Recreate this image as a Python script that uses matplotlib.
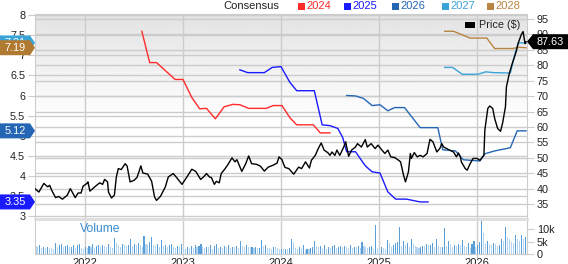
import numpy as np
import matplotlib.pyplot as plt
from matplotlib.patches import Polygon, Rectangle
from matplotlib.transforms import blended_transform_factory

plt.rcParams['font.family'] = ['Liberation Sans', 'DejaVu Sans']

# consensus EPS estimates (decimal year, value)
t_2024 = [2022.58, 2022.66, 2022.73, 2022.82, 2022.92, 2023.00, 2023.09, 2023.17, 2023.24, 2023.33,
          2023.42, 2023.51, 2023.58, 2023.67, 2023.85, 2023.92, 2024.01, 2024.09, 2024.16, 2024.33,
          2024.40, 2024.50]
eps_2024 = [7.60, 6.82, 6.82, 6.62, 6.40, 6.40, 5.95, 5.67, 5.68, 5.42,
            5.72, 5.78, 5.77, 5.68, 5.68, 5.75, 5.75, 5.45, 5.27, 5.27,
            5.07, 5.07]

t_2025 = [2023.58, 2023.66, 2023.83, 2023.91, 2024.00, 2024.09, 2024.16, 2024.34, 2024.42, 2024.50,
          2024.58, 2024.63, 2024.67, 2024.76, 2024.86, 2024.93, 2025.01, 2025.09, 2025.17, 2025.28,
          2025.42, 2025.50]
eps_2025 = [6.64, 6.57, 6.57, 6.70, 6.72, 6.33, 6.12, 6.12, 5.27, 5.25,
            5.18, 4.95, 4.60, 4.60, 4.25, 4.10, 4.07, 3.60, 3.42, 3.42,
            3.35, 3.35]

t_2026 = [2024.67, 2024.76, 2024.84, 2024.93, 2025.01, 2025.09, 2025.16, 2025.26, 2025.42, 2025.60,
          2025.65, 2025.78, 2025.86, 2026.03, 2026.08, 2026.18, 2026.34, 2026.41, 2026.50]
eps_2026 = [6.00, 5.99, 5.93, 5.75, 5.77, 5.62, 5.70, 5.70, 5.20, 5.20,
            4.65, 4.62, 4.40, 4.37, 4.55, 4.62, 4.70, 5.12, 5.12]

t_2027 = [2025.67, 2025.75, 2025.85, 2026.01, 2026.09, 2026.17, 2026.34, 2026.39, 2026.42, 2026.50]
eps_2027 = [6.70, 6.70, 6.53, 6.53, 6.59, 6.57, 6.56, 7.07, 7.31, 7.31]

t_2028 = [2025.67, 2025.76, 2025.93, 2026.10, 2026.18, 2026.36, 2026.43, 2026.50]
eps_2028 = [7.60, 7.60, 7.43, 7.43, 7.17, 7.17, 7.20, 7.19]

# share price
t_price = [2021.49, 2021.53, 2021.58, 2021.62, 2021.64, 2021.66, 2021.70, 2021.73, 2021.77, 2021.82,
           2021.85, 2021.87, 2021.90, 2021.93, 2021.96, 2021.98, 2022.02, 2022.03, 2022.05, 2022.10,
           2022.15, 2022.18, 2022.20, 2022.23, 2022.24, 2022.27, 2022.30, 2022.32, 2022.34, 2022.37,
           2022.41, 2022.43, 2022.46, 2022.50, 2022.53, 2022.55, 2022.57, 2022.59, 2022.64, 2022.68,
           2022.71, 2022.73, 2022.77, 2022.82, 2022.85, 2022.90, 2022.93, 2022.99, 2023.04, 2023.09,
           2023.13, 2023.18, 2023.21, 2023.24, 2023.27, 2023.29, 2023.32, 2023.34, 2023.37, 2023.39,
           2023.43, 2023.46, 2023.50, 2023.53, 2023.55, 2023.60, 2023.64, 2023.67, 2023.70, 2023.75,
           2023.79, 2023.83, 2023.87, 2023.92, 2023.96, 2023.98, 2024.01, 2024.04, 2024.08, 2024.13,
           2024.18, 2024.21, 2024.25, 2024.29, 2024.31, 2024.35, 2024.38, 2024.41, 2024.44, 2024.48,
           2024.50, 2024.52, 2024.55, 2024.57, 2024.60, 2024.64, 2024.66, 2024.69, 2024.72, 2024.76,
           2024.78, 2024.82, 2024.86, 2024.88, 2024.92, 2024.96, 2024.99, 2025.03, 2025.06, 2025.09,
           2025.12, 2025.16, 2025.20, 2025.22, 2025.25, 2025.27, 2025.30, 2025.32, 2025.33, 2025.36,
           2025.39, 2025.42, 2025.45, 2025.49, 2025.52, 2025.55, 2025.59, 2025.62, 2025.64, 2025.66,
           2025.69, 2025.72, 2025.76, 2025.79, 2025.81, 2025.83, 2025.84, 2025.88, 2025.90, 2025.93,
           2025.96, 2026.00, 2026.03, 2026.07, 2026.08, 2026.11, 2026.13, 2026.16, 2026.18, 2026.21,
           2026.24, 2026.26, 2026.29, 2026.30, 2026.33, 2026.36, 2026.40, 2026.42, 2026.45, 2026.47,
           2026.49, 2026.50]
price = [40.0, 38.9, 41.7, 40.6, 41.1, 39.5, 37.1, 37.5, 36.6, 37.9,
         40.0, 38.9, 37.1, 38.6, 38.6, 40.8, 41.7, 42.2, 39.2, 40.6,
         41.9, 41.4, 43.0, 42.2, 38.9, 37.0, 37.9, 43.8, 46.5, 46.2,
         48.1, 47.3, 42.2, 42.7, 43.6, 45.4, 47.4, 45.1, 44.7, 42.4,
         37.3, 36.2, 37.5, 40.6, 43.8, 44.9, 43.8, 41.4, 43.8, 46.3,
         45.6, 43.0, 43.8, 44.9, 43.8, 43.6, 41.4, 42.4, 41.9, 44.9,
         46.5, 47.9, 50.0, 48.7, 49.4, 45.6, 48.1, 50.6, 48.1, 47.9,
         47.3, 45.7, 47.0, 47.6, 48.3, 50.3, 49.4, 46.9, 46.5, 44.7,
         47.0, 46.5, 48.7, 46.7, 49.2, 50.8, 53.0, 54.8, 52.5, 51.6,
         50.8, 51.9, 50.8, 52.5, 50.8, 53.5, 55.2, 50.5, 52.5, 53.5,
         54.6, 53.5, 55.9, 53.5, 54.6, 53.0, 54.1, 52.5, 51.4, 52.5,
         50.3, 50.1, 49.2, 48.7, 44.4, 42.2, 45.4, 51.4, 49.8, 51.7,
         50.3, 50.8, 50.3, 51.4, 56.0, 55.2, 51.9, 53.0, 54.6, 53.5,
         53.0, 52.5, 51.9, 50.3, 51.6, 50.3, 48.7, 46.5, 46.0, 48.1,
         49.8, 49.8, 49.2, 50.8, 59.0, 66.0, 66.8, 66.0, 62.8, 59.5,
         58.6, 61.1, 66.5, 73.0, 77.4, 80.6, 84.4, 87.1, 89.8, 90.9,
         87.0, 87.63]

# weekly volume, thousands
volume_k = [3.2, 2.8, 3.5, 2.5, 3.0, 2.6, 2.8, 2.6, 2.4, 2.0,
            4.5, 3.0, 3.8, 4.2, 2.9, 3.2, 3.6, 2.8, 3.0, 3.8, 2.5, 3.5, 4.0, 2.3, 2.0,
            2.8, 2.5, 3.4, 3.0, 4.2, 2.6, 3.1, 3.5, 2.9, 3.8, 3.3, 2.7, 4.0, 3.0, 2.5,
            6.4, 4.5, 3.5, 3.0, 4.0, 3.6, 3.2, 3.8, 5.9, 3.4, 4.0, 3.5, 4.4, 3.8, 2.9, 7.2,
            4.2, 3.6, 4.8, 6.8, 3.8, 3.4, 4.0, 3.0, 5.5, 3.2, 3.8, 2.8, 3.6, 4.2, 2.9,
            2.6, 3.4, 2.8, 4.0, 2.5, 2.2, 3.0, 2.4, 3.2, 2.6, 3.8, 2.9, 3.4, 4.2, 2.7,
            2.4, 3.0, 2.8, 3.6, 2.2, 3.2, 4.0, 2.6, 3.0, 2.4, 3.4, 2.8, 3.8, 2.5, 3.0,
            2.8, 3.4, 2.6, 5.3, 3.1, 2.9, 3.6, 3.0, 2.7, 2.8, 2.6, 3.0, 2.4, 2.5, 5.6,
            3.2, 3.8, 2.6, 2.4, 2.2, 3.0, 2.8, 2.4, 2.0, 2.2,
            2.0, 2.2, 2.0, 2.4, 6.0, 4.8, 2.5, 2.0, 2.8, 2.6, 3.5, 1.8, 2.2, 2.0, 2.4,
            2.8, 5.2, 3.2, 3.0, 3.4, 2.6, 3.8, 2.2, 3.0, 2.4, 3.2, 3.6, 2.6, 2.8, 3.4,
            2.8, 3.2, 3.0, 2.6, 3.6, 2.5, 3.0, 2.8, 3.4, 2.6, 5.0, 3.2, 2.7, 2.4, 2.8, 3.4, 2.2, 11.6,
            2.4, 2.2, 3.0, 2.6, 2.0, 5.8, 4.5, 3.0, 3.8, 4.4, 4.8, 10.8, 3.4, 5.2, 3.6,
            4.6, 3.0, 6.2, 4.0, 3.2, 2.8, 2.6, 3.0, 3.4, 3.2, 4.0, 3.6, 3.8, 4.4, 3.0,
            6.0, 3.2, 2.8, 3.0, 10.6, 3.4, 5.4, 4.2, 2.8, 3.6, 3.2, 4.0, 3.8, 5.6, 3.4,
            3.0, 4.6, 2.6, 4.2, 5.2, 3.0, 3.6, 4.8, 13.5, 8.5, 4.6, 5.4, 4.0, 3.8,
            4.4, 4.0, 3.4, 3.8, 6.0, 5.2, 10.8, 7.0, 6.2, 5.0, 4.4, 7.6, 6.0, 5.2, 7.6, 6.0, 7.0]

years = [2022, 2023, 2024, 2025, 2026]
eps_ticks = [3, 3.5, 4, 4.5, 5, 5.5, 6, 6.5, 7, 7.5, 8]
price_ticks = [35, 40, 45, 50, 55, 60, 65, 70, 75, 80, 85, 90, 95]
vol_ticks = [0, 5, 10]
vol_labels = ['0', '5k', '10k']

series = [('2024', t_2024, eps_2024, '#ff2a2a'),
          ('2025', t_2025, eps_2025, '#1a1aff'),
          ('2026', t_2026, eps_2026, '#2566b4'),
          ('2027', t_2027, eps_2027, '#3aa3d8'),
          ('2028', t_2028, eps_2028, '#b8843f')]

xlim = (2021.49, 2026.51)
eps_lim = (2.95, 8.03)
price_lim = (30.5, 96.6)
grid_c = '#cccccc'

fig = plt.figure(figsize=(5.68, 2.64), dpi=100)
W, H = 568, 264
ax = fig.add_axes([35 / W, 1 - 218 / H, 492 / W, 204 / H])
axv = fig.add_axes([35 / W, 1 - 254 / H, 492 / W, 35 / H])

# background gradient
grad = np.clip(np.linspace(0.89, 1.1, 256), 0, 1)[:, None]
ax.imshow(grad, cmap='gray', vmin=0, vmax=1, extent=[0, 1, 0, 1],
          transform=ax.transAxes, aspect='auto', zorder=0)
ax.set_xlim(*xlim)
ax.set_ylim(*eps_lim)

# gridlines for both scales
for v in eps_ticks:
    ax.axhline(v, color=grid_c, lw=1, zorder=1)
for v in price_ticks:
    yl = eps_lim[0] + (v - price_lim[0]) * (eps_lim[1] - eps_lim[0]) / (price_lim[1] - price_lim[0])
    ax.axhline(yl, color=grid_c, lw=1, zorder=1)
for y in years:
    ax.axvline(y, color=grid_c, lw=1, zorder=1)
    axv.axvline(y, color=grid_c, lw=1, zorder=0)

for name, t, v, c in series:
    ax.plot(t, v, color=c, lw=1.0, zorder=3)

ax.set_xticks(years)
ax.tick_params(axis='x', length=0, labelbottom=False)
ax.set_yticks(eps_ticks)
ax.set_yticklabels(['{:g}'.format(v) for v in eps_ticks])
ax.tick_params(axis='y', direction='out', length=5, color=grid_c, labelsize=7.8,
               labelcolor='#222222', pad=2)
for s in ax.spines.values():
    s.set_color(grid_c)
ax.spines['bottom'].set_visible(False)

axp = ax.twinx()
axp.plot(t_price, price, color='black', lw=1.0, zorder=4)
axp.set_ylim(*price_lim)
axp.set_xlim(*xlim)
axp.set_yticks(price_ticks)
axp.tick_params(axis='y', direction='out', length=5, color=grid_c, labelsize=7.8,
                labelcolor='#222222', pad=2)
for s in axp.spines.values():
    s.set_visible(False)

# value tags, each stacked above the previous one
def left_tag(value, color, z):
    tr = blended_transform_factory(ax.transAxes, ax.transData)
    hh = 7.5 * (eps_lim[1] - eps_lim[0]) / 204
    x0, x1, x2 = -35 / 492, -5 / 492, 0
    poly = Polygon([[x0, value - hh], [x1, value - hh], [x2, value],
                    [x1, value + hh], [x0, value + hh]], closed=True,
                   facecolor=color, edgecolor='none', transform=tr, clip_on=False, zorder=z)
    ax.add_patch(poly)
    ax.text((x0 + x1) / 2, value, '{:.2f}'.format(value), transform=tr, color='white',
            fontsize=7.8, ha='center', va='center', clip_on=False, zorder=z + 0.5)

left_tag(eps_2027[-1], '#3aa3d8', 6)
left_tag(eps_2028[-1], '#b07a30', 7)
left_tag(eps_2026[-1], '#2566b4', 8)
left_tag(eps_2025[-1], '#1a1aff', 9)

tr = blended_transform_factory(axp.transAxes, axp.transData)
hh = 7.5 * (price_lim[1] - price_lim[0]) / 204
last = price[-1]
x0, x1, x2 = 1.0, 1 + 6 / 492, 1 + 41 / 492
axp.add_patch(Polygon([[x0, last], [x1, last + hh], [x2, last + hh], [x2, last - hh],
                       [x1, last - hh]], closed=True, facecolor='black', edgecolor='none',
                      transform=tr, clip_on=False, zorder=6))
axp.text((x1 + x2) / 2, last, '{:.2f}'.format(last), transform=tr, color='white',
         fontsize=7.8, ha='center', va='center', clip_on=False, zorder=7)

# volume panel
cols = ['#5b9fd8' if i > 0 and volume_k[i] > volume_k[i - 1] else '#b4d3ef'
        for i in range(len(volume_k))]
t_vol = np.linspace(2021.50, 2026.49, len(volume_k))
axv.bar(t_vol, volume_k, width=0.011, color=cols, zorder=2)
axv.set_xlim(*xlim)
axv.set_ylim(0, 14.0)
axv.yaxis.tick_right()
axv.set_yticks(vol_ticks)
axv.set_yticklabels(vol_labels)
axv.set_xticks(years)
axv.set_xticklabels([str(y) for y in years])
axv.tick_params(axis='y', direction='out', length=5, color=grid_c, labelsize=7.8,
                labelcolor='#222222', pad=2)
axv.tick_params(axis='x', direction='out', length=3, color=grid_c, labelsize=8,
                labelcolor='#222222', pad=0)
for s in axv.spines.values():
    s.set_color(grid_c)
axv.spines['top'].set_color('#dddddd')
axv.spines['top'].set_linewidth(2)
axv.text(45 / 492, 0.72, 'Volume', transform=axv.transAxes, color='#3a8ad0',
         fontsize=8.7, ha='left', va='center')

# legends
fig.text(223 / W, 1 - 6 / H, 'Consensus', fontsize=8, color='#222222', ha='left', va='center')
legend_x = [298, 344, 392, 442, 487]
for (name, t, v, c), lx in zip(series, legend_x):
    fig.patches.append(Rectangle((lx / W, 1 - 9.5 / H), 7 / W, 7 / H, transform=fig.transFigure,
                                 facecolor=c, edgecolor='none'))
    fig.text((lx + 8) / W, 1 - 6 / H, name, fontsize=8, color=c, ha='left', va='center')

fig.patches.append(Rectangle((465 / W, 1 - 28 / H), 10 / W, 6 / H, transform=fig.transFigure,
                             facecolor='black', edgecolor='none', zorder=8))
fig.text(479 / W, 1 - 25 / H, 'Price ($)', fontsize=7.8, color='#222222', ha='left', va='center',
         zorder=8)

fig.savefig('out.png', dpi=100)
